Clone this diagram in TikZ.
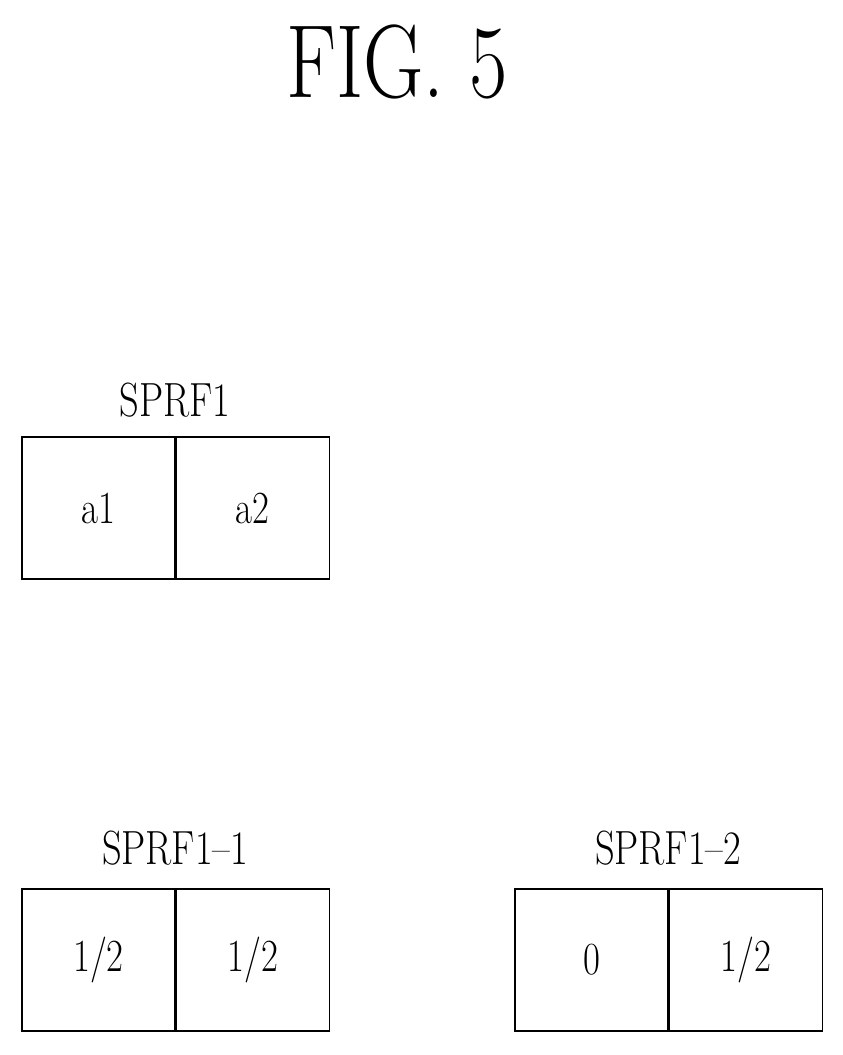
\documentclass[tikz,border=0pt]{standalone}
\usepackage{graphicx}
\usetikzlibrary{positioning}

\begin{document}
\begin{tikzpicture}[
        x=1pt, y=-1pt,
        cell/.style={draw, line width=1.2pt, minimum width=153pt, minimum height=142pt, inner sep=0pt, font=\fontsize{46}{46}\selectfont},
        title/.style={font=\fontsize{48}{48}\selectfont}
        ]
        \useasboundingbox (0,0) rectangle (843,1055);

        % Heading
        \node[font=\fontsize{104}{104}\selectfont] (fig) at (397,62) {\scalebox{0.8}[1]{FIG. 5}};

        % First field
        \node[cell] (a1) at (98.5,508) {\scalebox{0.8}[1]{a1}};
        \node[cell, right=0pt of a1] (a2) {\scalebox{0.8}[1]{a2}};
        \node[title] (sprf) at (175,400) {\scalebox{0.8}[1]{SPRF1}};

        % Sub fields
        \node[cell] (b1) at (98.5,960) {\scalebox{0.8}[1]{1/2}};
        \node[cell, right=0pt of b1] (b2) {\scalebox{0.8}[1]{1/2}};
        \node[title] (sprfa) at (175,848) {\scalebox{0.8}[1]{SPRF1--1}};

        \node[cell] (c1) at (591.5,960) {\scalebox{0.8}[1]{0}};
        \node[cell, right=0pt of c1] (c2) {\scalebox{0.8}[1]{1/2}};
        \node[title] (sprfb) at (668,848) {\scalebox{0.8}[1]{SPRF1--2}};
    \end{tikzpicture}
\end{document}
